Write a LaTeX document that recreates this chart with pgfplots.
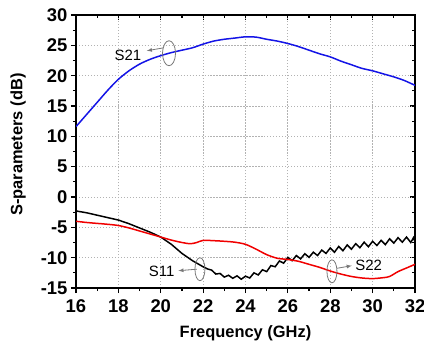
\documentclass[border=0pt]{standalone}
\usepackage{fontspec}
\setmainfont{Liberation Sans}
\usepackage{pgfplots}
\pgfplotsset{compat=1.18}
\definecolor{cblue}{RGB}{20,20,230}
\definecolor{cred}{RGB}{240,0,0}
\definecolor{cgray}{RGB}{120,120,120}
\pgfplotsset{myaxis/.style={
  scale only axis, width=339bp, height=273bp,
  at={(0,0)}, anchor=south west,
  xmin=16, xmax=32, ymin=-15, ymax=30,
  xtick={16,18,...,32}, ytick={-15,-10,...,30},
  minor x tick num=1, minor y tick num=1,
  axis line style={line width=1.6pt},
  major tick length=5bp, minor tick length=3bp,
  every tick/.style={black, line width=1.2pt},
  /pgf/number format/assume math mode=true,
  ticklabel style={font=\fontsize{18.5}{21}\selectfont\bfseries},
}}
\begin{document}
\begin{tikzpicture}
\begin{axis}[myaxis,
  xtick pos=upper, ytick pos=right, tick align=inside,
  xticklabels={}, yticklabels={},
]
\end{axis}
\begin{axis}[myaxis,
  xtick pos=lower, ytick pos=left, tick align=outside,
  xmajorgrids=true, ymajorgrids=true,
  every major grid/.style={black!30, line width=0.8pt, dash pattern=on 1.2pt off 1.8pt},
  xticklabel style={yshift=-3bp},
  xlabel={Frequency (GHz)}, ylabel={S-parameters (dB)},
  label style={font=\fontsize{16.5}{19}\selectfont\bfseries},
  x label style={at={(axis description cs:0.5,-0.165)}, anchor=center},
  y label style={at={(axis description cs:-0.171,0.525)}, anchor=center},
]
\addplot[cblue, line width=1.5pt, smooth] coordinates {
(16,11.6) (16.5,13.6) (17,15.6) (17.5,17.6) (18,19.4) (18.5,20.8) (19,21.9) (19.5,22.7)
(20,23.3) (20.5,23.8) (21,24.2) (21.5,24.6) (22,25.2) (22.5,25.7) (23,26.0) (23.5,26.2)
(24,26.4) (24.5,26.35) (25,26.0) (25.5,25.7) (26,25.3) (26.5,24.8) (27,24.2) (27.5,23.6)
(28,23.1) (28.5,22.4) (29,21.8) (29.5,21.2) (30,20.8) (30.5,20.3) (31,19.8) (31.5,19.2) (32,18.4)
};
\addplot[black, line width=1.5pt] coordinates {
(16,-2.3) (16.5,-2.6) (17,-3.0) (17.5,-3.4) (18,-3.8) (18.5,-4.4) (19,-5.1) (19.5,-5.8)
(20,-6.6) (20.5,-7.8) (21,-9.3) (21.5,-10.5) (22,-11.5) (22.2,-11.85)
(22.4,-12.05) (22.6,-12.7) (22.8,-12.6) (23.0,-13.2) (23.2,-12.9) (23.4,-13.4) (23.6,-13.0) (23.8,-13.55)
(24.0,-13.05) (24.2,-13.35) (24.4,-12.5) (24.6,-12.85) (24.8,-12.0) (25.0,-12.3) (25.2,-11.3) (25.4,-11.5)
(25.6,-10.55) (25.8,-10.9) (26.0,-9.95) (26.2,-10.5) (26.4,-9.65) (26.6,-10.2) (26.8,-9.35) (27.0,-9.95)
(27.2,-9.1) (27.4,-9.65) (27.6,-8.75) (27.8,-9.3) (28.0,-8.4) (28.2,-9.1) (28.4,-8.15) (28.6,-8.85)
(28.8,-7.9) (29.0,-8.6) (29.2,-7.7) (29.4,-8.35) (29.6,-7.45) (29.8,-8.2) (30.0,-7.3) (30.2,-8.0)
(30.4,-7.15) (30.6,-7.85) (30.8,-6.9) (31.0,-7.6) (31.2,-6.7) (31.4,-7.45) (31.6,-6.6) (31.8,-7.5)
(31.93,-6.7) (32,-7.4)
};
\addplot[cred, line width=1.5pt, smooth] coordinates {
(16,-4.0) (16.5,-4.2) (17,-4.35) (17.5,-4.5) (18,-4.7) (18.5,-5.1) (19,-5.6) (19.5,-6.1)
(20,-6.6) (20.5,-7.1) (21,-7.5) (21.4,-7.7) (21.7,-7.5) (22,-7.15) (22.5,-7.2) (23,-7.3)
(23.5,-7.45) (24,-7.8) (24.5,-8.6) (25,-9.5) (25.5,-10.1) (26,-10.3) (26.5,-10.6) (27,-11.1)
(27.5,-11.6) (28,-12.2) (28.5,-12.7) (29,-13.1) (29.5,-13.35) (30,-13.45) (30.5,-13.3)
(30.8,-13.1) (31.2,-12.3) (31.6,-11.7) (32,-11.1)
};
% annotations
\draw[cgray, line width=0.8pt] (axis cs:20.39,23.7) ellipse [x radius=6.5bp, y radius=12.5bp];
\draw[cgray, line width=0.8pt, -latex] (axis cs:20.15,24.6) -- (axis cs:19.34,24.1);
\node[font=\fontsize{15}{18}\selectfont, inner sep=0pt] at (axis cs:18.45,23.4) {S21};
\draw[cgray, line width=0.8pt] (axis cs:21.85,-11.9) ellipse [x radius=5bp, y radius=11.5bp];
\draw[cgray, line width=0.8pt, -latex] (axis cs:21.7,-11.9) -- (axis cs:20.83,-12.15);
\node[font=\fontsize{15}{18}\selectfont, inner sep=0pt] at (axis cs:20.04,-12.3) {S11};
\draw[cgray, line width=0.8pt] (axis cs:28.08,-12.25) ellipse [x radius=5bp, y radius=11.5bp];
\draw[cgray, line width=0.8pt, -latex] (axis cs:28.32,-11.75) -- (axis cs:29.02,-11.32);
\node[font=\fontsize{15}{18}\selectfont, inner sep=0pt] at (axis cs:29.81,-11.3) {S22};
\end{axis}
\pgfresetboundingbox
\useasboundingbox (-76bp,-60bp) rectangle (348bp,288bp);
\end{tikzpicture}
\end{document}
